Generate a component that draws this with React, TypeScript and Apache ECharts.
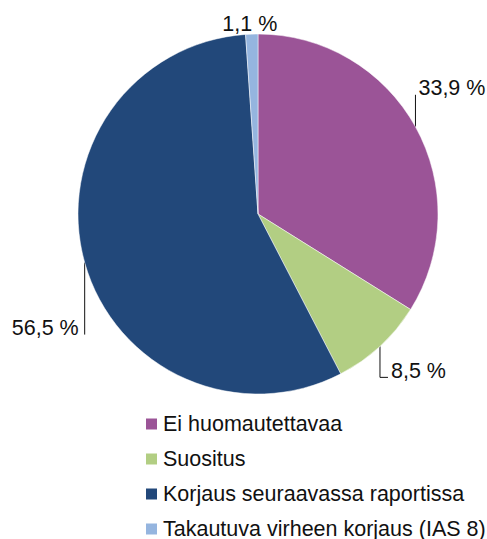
import React, { useEffect, useRef } from "react";
import * as echarts from "echarts";

const categories = [
  "Ei huomautettavaa",
  "Suositus",
  "Korjaus seuraavassa raportissa",
  "Takautuva virheen korjaus (IAS 8)",
];
const values = [33.9, 8.5, 56.5, 1.1];
const colors = ["#9b5497", "#b2ce83", "#22487a", "#95b5df"];

const CX = 258;
const CY = 214;
const R = 180;
const FONT = "'Liberation Sans', Arial, Helvetica, sans-serif";
const FS = 21.5;

export default function App() {
  const ref = useRef<HTMLDivElement>(null);
  useEffect(() => {
    if (!ref.current) return;
    const chart = echarts.init(ref.current, undefined, { renderer: "svg" });
    const total = values.reduce((a, b) => a + b, 0);
    const mids: number[] = [];
    let acc = 0;
    values.forEach((v) => {
      mids.push((acc + v / 2) / total);
      acc += v;
    });
    chart.setOption({
      animation: false,
      legend: {
        orient: "vertical",
        left: 139,
        top: 408,
        height: 160,
        icon: "rect",
        itemWidth: 13,
        itemHeight: 13,
        itemGap: 13,
        selectedMode: false,
        textStyle: { fontSize: FS, color: "#111", fontFamily: FONT, lineHeight: 20 },
        data: categories,
      },
      series: [
        {
          type: "pie",
          center: [CX, CY],
          radius: R,
          startAngle: 90,
          clockwise: true,
          itemStyle: { borderColor: "#fff", borderWidth: 0.5 },
          data: categories.map((name, i) => ({
            name,
            value: values[i],
            itemStyle: { color: colors[i] },
            labelLine: { show: i !== 3 },
          })),
          label: {
            show: true,
            fontSize: FS,
            lineHeight: 20,
            color: "#111",
            fontFamily: FONT,
            overflow: "none",
            alignTo: "none",
            formatter: (p: any) => p.value.toFixed(1).replace(".", ",") + " %",
          },
          labelLine: {
            show: true,
            lineStyle: { color: "#111", width: 1 },
          },
          labelLayout: (p: any) => {
            const th = mids[p.dataIndex] * Math.PI * 2;
            const sx = CX + R * Math.sin(th);
            const sy = CY - R * Math.cos(th);
            if (p.dataIndex === 0) {
              return {
                x: sx + 3,
                y: sy - 29,
                align: "left",
                verticalAlign: "bottom",
                labelLinePoints: [[sx, sy], [sx, sy - 32], [sx, sy - 32]],
              };
            }
            if (p.dataIndex === 1) {
              return {
                x: sx + 11,
                y: sy + 35,
                align: "left",
                verticalAlign: "bottom",
                labelLinePoints: [[sx, sy], [sx, sy + 31], [sx + 8, sy + 31]],
              };
            }
            if (p.dataIndex === 2) {
              return {
                x: sx - 6,
                y: sy + 75,
                align: "right",
                verticalAlign: "bottom",
                labelLinePoints: [[sx, sy], [sx, sy + 72], [sx, sy + 72]],
              };
            }
            return {
              x: sx - 2,
              y: sy,
              align: "center",
              verticalAlign: "bottom",
            };
          },
        },
      ],
    });
    return () => chart.dispose();
  }, []);
  return <div ref={ref} style={{ width: 487, height: 539, position: "absolute", left: 0, top: 0 }} />;
}
